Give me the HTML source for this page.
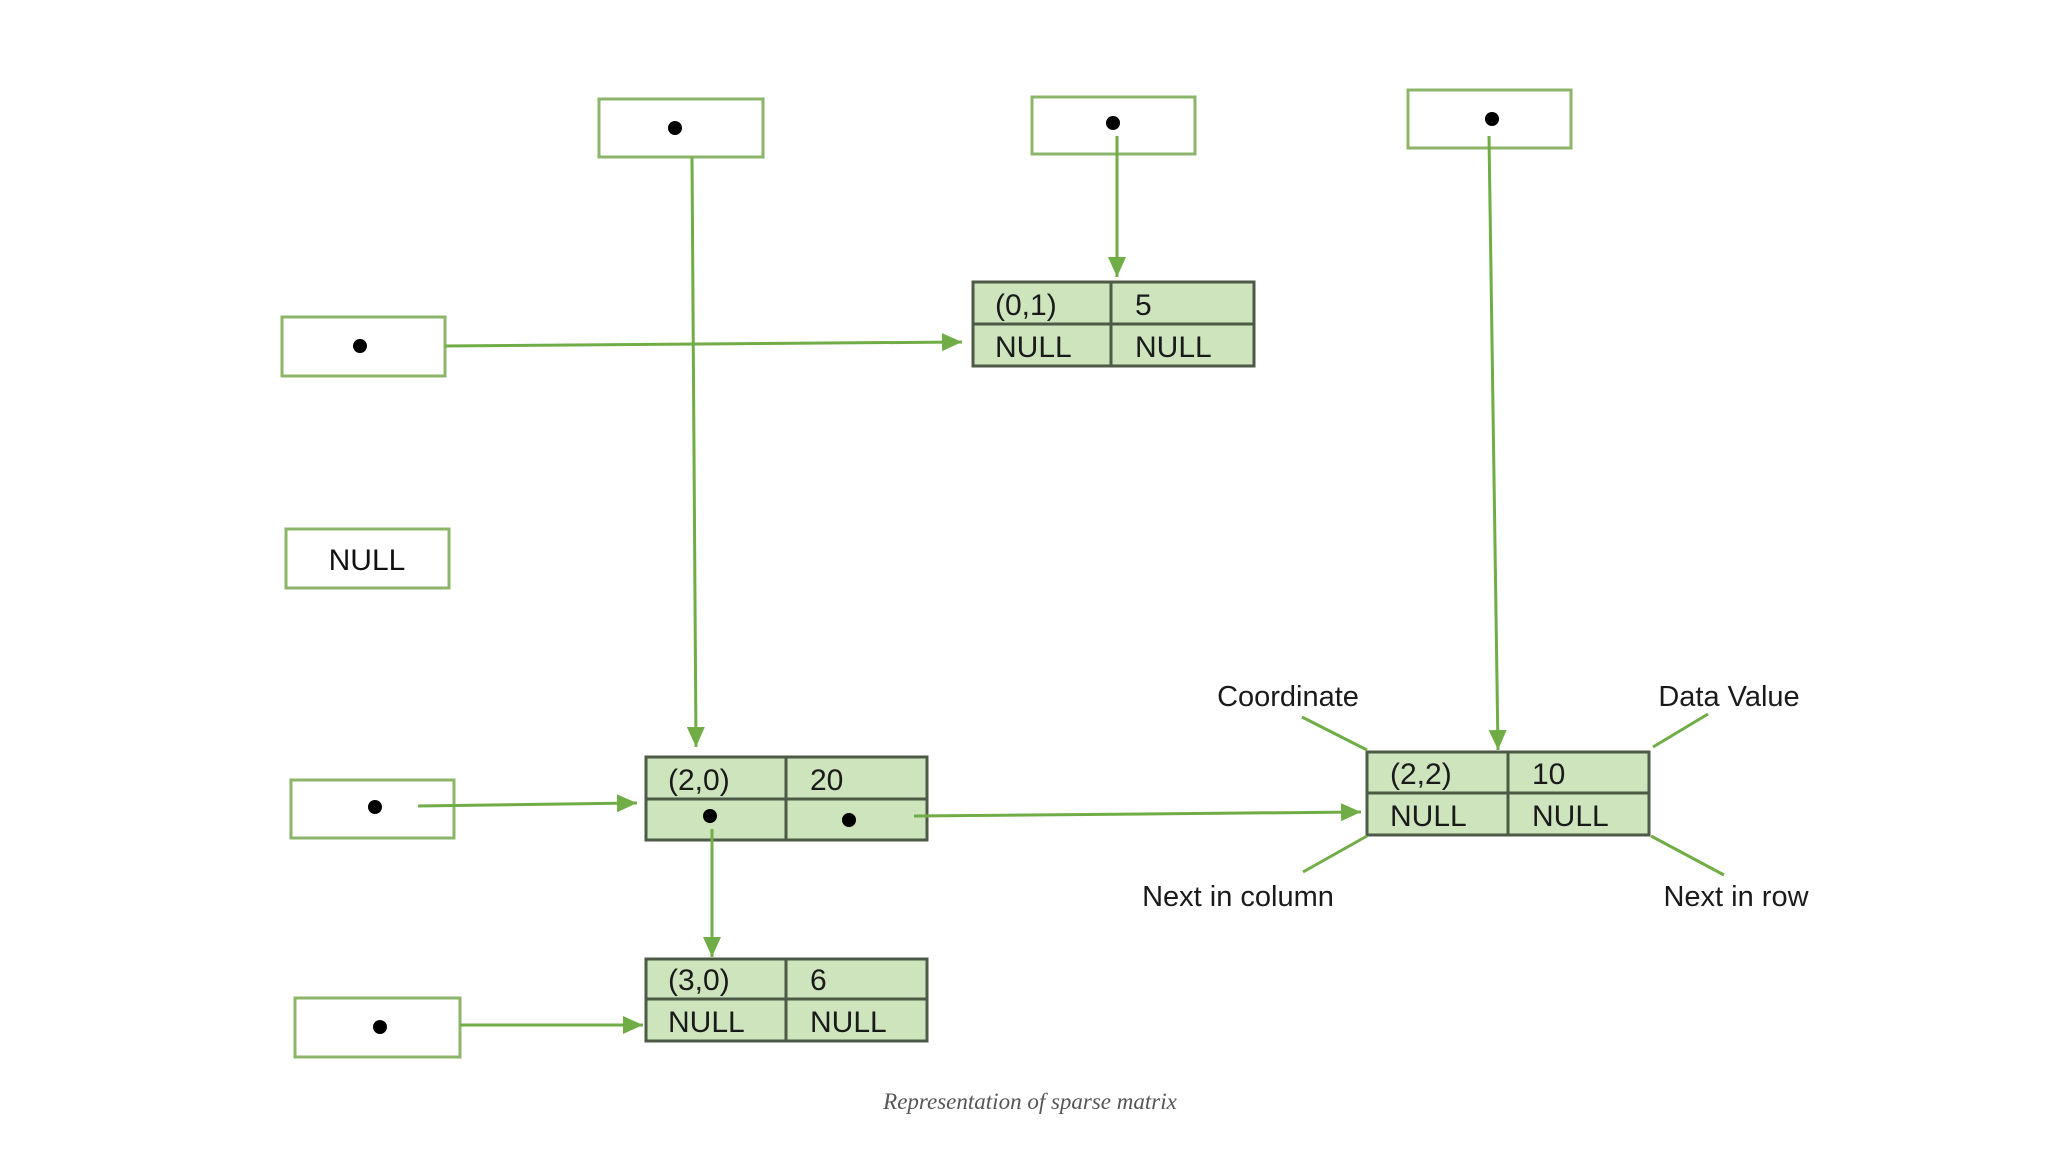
<!DOCTYPE html>
<html><head><meta charset="utf-8"><style>
html,body{margin:0;padding:0;background:#fff;}
</style></head><body>
<svg width="2048" height="1152" viewBox="0 0 2048 1152" xmlns="http://www.w3.org/2000/svg" font-family="Liberation Sans, sans-serif">
<defs>
<marker id="a" markerWidth="10" markerHeight="10" refX="9" refY="5" orient="auto" markerUnits="userSpaceOnUse" viewBox="0 0 10 10">
<path d="M0,0 L10,5 L0,10 z" fill="#70ad47" transform="scale(1)"/>
</marker>
<marker id="b" markerWidth="20" markerHeight="18" refX="20" refY="9" orient="auto" markerUnits="userSpaceOnUse">
<path d="M0,0 L20,9 L0,18 z" fill="#70ad47"/>
</marker>
</defs>
<g fill="#fff" stroke="#8cb56a" stroke-width="3">
<rect x="599" y="99" width="164" height="58"/>
<rect x="1032" y="97" width="163" height="57"/>
<rect x="1408" y="90" width="163" height="58"/>
<rect x="282" y="317" width="163" height="59"/>
<rect x="286" y="529" width="163" height="59"/>
<rect x="291" y="780" width="163" height="58"/>
<rect x="295" y="998" width="165" height="59"/>
</g>
<g fill="#000">
<circle cx="675" cy="128" r="7"/>
<circle cx="1113" cy="123" r="7"/>
<circle cx="1492" cy="119" r="7"/>
<circle cx="360" cy="346" r="7"/>
<circle cx="375" cy="807" r="7"/>
<circle cx="380" cy="1027" r="7"/>
</g>
<text x="367" y="570" font-size="30" text-anchor="middle" fill="#111">NULL</text>
<g fill="#cde4bd" stroke="#4d5a45" stroke-width="3">
<rect x="973" y="282" width="281" height="84"/>
<rect x="646" y="757" width="281" height="83"/>
<rect x="1367" y="752" width="282" height="83"/>
<rect x="646" y="959" width="281" height="82"/>
</g>
<g stroke="#4d5a45" stroke-width="3">
<line x1="973" y1="324" x2="1254" y2="324"/><line x1="1111" y1="282" x2="1111" y2="366"/>
<line x1="646" y1="799" x2="927" y2="799"/><line x1="786" y1="757" x2="786" y2="840"/>
<line x1="1367" y1="793" x2="1649" y2="793"/><line x1="1508" y1="752" x2="1508" y2="835"/>
<line x1="646" y1="999" x2="927" y2="999"/><line x1="786" y1="959" x2="786" y2="1041"/>
</g>
<g font-size="30" fill="#1a1a1a">
<text x="995" y="315">(0,1)</text><text x="1135" y="315">5</text>
<text x="995" y="357">NULL</text><text x="1135" y="357">NULL</text>
<text x="668" y="790">(2,0)</text><text x="810" y="790">20</text>
<text x="1390" y="784">(2,2)</text><text x="1532" y="784">10</text>
<text x="1390" y="826">NULL</text><text x="1532" y="826">NULL</text>
<text x="668" y="990">(3,0)</text><text x="810" y="990">6</text>
<text x="668" y="1032">NULL</text><text x="810" y="1032">NULL</text>
</g>
<circle cx="710" cy="816" r="7" fill="#000"/>
<circle cx="849" cy="820" r="7" fill="#000"/>
<g stroke="#70ad47" stroke-width="3" fill="none">
<line x1="692" y1="157" x2="696" y2="747" marker-end="url(#b)"/>
<line x1="1117" y1="136" x2="1117" y2="277" marker-end="url(#b)"/>
<line x1="445" y1="346" x2="962" y2="342" marker-end="url(#b)"/>
<line x1="418" y1="806" x2="637" y2="803" marker-end="url(#b)"/>
<line x1="914" y1="816" x2="1361" y2="812" marker-end="url(#b)"/>
<line x1="712" y1="829" x2="712" y2="957" marker-end="url(#b)"/>
<line x1="1489" y1="136" x2="1498" y2="750" marker-end="url(#b)"/>
<line x1="460" y1="1025" x2="643" y2="1025" marker-end="url(#b)"/>
<line x1="1302" y1="717" x2="1367" y2="750"/>
<line x1="1708" y1="714" x2="1653" y2="747"/>
<line x1="1367" y1="836" x2="1303" y2="872"/>
<line x1="1651" y1="836" x2="1724" y2="875"/>
</g>
<g font-size="29" fill="#1a1a1a" text-anchor="middle">
<text x="1288" y="706">Coordinate</text>
<text x="1729" y="706">Data Value</text>
<text x="1238" y="906">Next in column</text>
<text x="1736" y="906">Next in row</text>
</g>
<text x="1030" y="1109" font-family="Liberation Serif, serif" font-style="italic" font-size="23" fill="#555" text-anchor="middle">Representation of sparse matrix</text>
</svg>
</body></html>
